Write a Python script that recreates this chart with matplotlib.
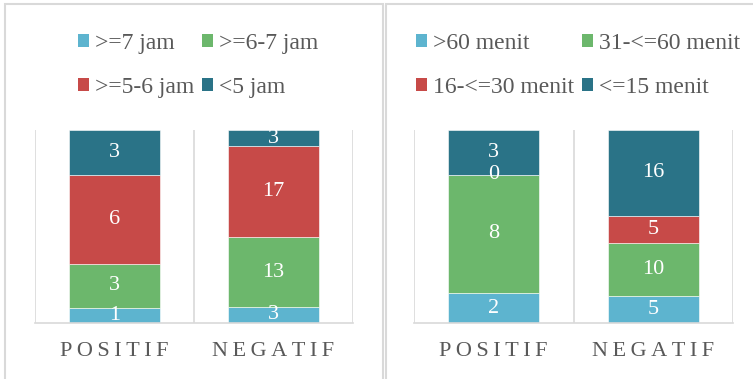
import matplotlib as mpl
mpl.use('Agg')
import matplotlib.pyplot as plt
from matplotlib.patches import Patch, Rectangle
import numpy as np

plt.rcParams['font.family'] = ['Liberation Serif', 'DejaVu Serif']

categories = ['POSITIF', 'NEGATIF']

sleep_labels = ['>=7 jam', '>=6-7 jam', '>=5-6 jam', '<5 jam']
sleep_counts = [[1, 3], [3, 13], [6, 17], [3, 3]]

screen_labels = ['>60 menit', '31-<=60 menit', '16-<=30 menit', '<=15 menit']
screen_counts = [[2, 5], [8, 10], [0, 5], [3, 16]]

COLORS = ['#5db4cf', '#6cb76c', '#c74a48', '#2a7387']
GRID = '#d9d9d9'
TEXT = '#595959'

W, H = 753, 379


def px_axes(fig, x0, x1, ytop, ybot):
    return fig.add_axes([x0 / W, 1 - ybot / H, (x1 - x0) / W, (ybot - ytop) / H])


def stacked(ax, labels, counts):
    counts = np.array(counts, dtype=float)
    totals = counts.sum(axis=0)
    x = np.arange(len(categories))
    bottom = np.zeros(len(categories))
    handles = []
    for lab, row, col in zip(labels, counts, COLORS):
        frac = row / totals
        ax.bar(x, frac, 0.57, bottom=bottom, color=col, edgecolor='white',
               linewidth=0.4, zorder=2)
        for xi, f, b, v in zip(x, frac, bottom, row):
            ax.text(xi, b + f / 2, '%d' % v, ha='center', va='center',
                    color='white', fontsize=16, zorder=3)
        bottom += frac
        handles.append(Patch(facecolor=col, edgecolor='none', label=lab))
    ax.set_xlim(-0.5, len(categories) - 0.5)
    ax.set_ylim(0, 1)
    for xv in np.arange(-0.5, len(categories), 1.0):
        ax.axvline(xv, color=GRID, lw=1.2, zorder=1)
    for s in ['top', 'left', 'right']:
        ax.spines[s].set_visible(False)
    ax.spines['bottom'].set_color(GRID)
    ax.spines['bottom'].set_linewidth(1.2)
    ax.set_yticks([])
    ax.set_xticks(x)
    # letter-spaced category names, as in the original
    ax.set_xticklabels(['\u2009'.join(c) for c in categories], fontsize=16,
                       color=TEXT)
    ax.tick_params(axis='x', length=0, pad=14)
    return handles


fig = plt.figure(figsize=(W / 100, H / 100), dpi=100)

# chart frames
fig.add_artist(Rectangle((5 / W, -0.1), 378 / W, 1.1 - 4 / H,
                         transform=fig.transFigure, fill=False,
                         edgecolor=GRID, lw=1.5))
fig.add_artist(Rectangle((386 / W, -0.1), 0.6, 1.1 - 4 / H,
                         transform=fig.transFigure, fill=False,
                         edgecolor=GRID, lw=1.5))

ax1 = px_axes(fig, 35, 353, 130, 323)
h1 = stacked(ax1, sleep_labels, sleep_counts)

ax2 = px_axes(fig, 414, 733, 130, 323)
h2 = stacked(ax2, screen_labels, screen_counts)

legend_kw = dict(ncol=2, frameon=False, fontsize=17, handlelength=0.47,
                 handleheight=0.47, handletextpad=0.25, labelspacing=0.95,
                 columnspacing=0.35, borderpad=0, loc='center',
                 labelcolor=TEXT, bbox_transform=fig.transFigure)
fig.legend([h1[0], h1[2], h1[1], h1[3]],
           [sleep_labels[0], sleep_labels[2], sleep_labels[1], sleep_labels[3]],
           bbox_to_anchor=(198 / W, 1 - 65.5 / H), **legend_kw)
fig.legend([h2[0], h2[2], h2[1], h2[3]],
           [screen_labels[0], screen_labels[2], screen_labels[1], screen_labels[3]],
           bbox_to_anchor=(578 / W, 1 - 65.5 / H), **legend_kw)

fig.savefig('out.png', dpi=100)
